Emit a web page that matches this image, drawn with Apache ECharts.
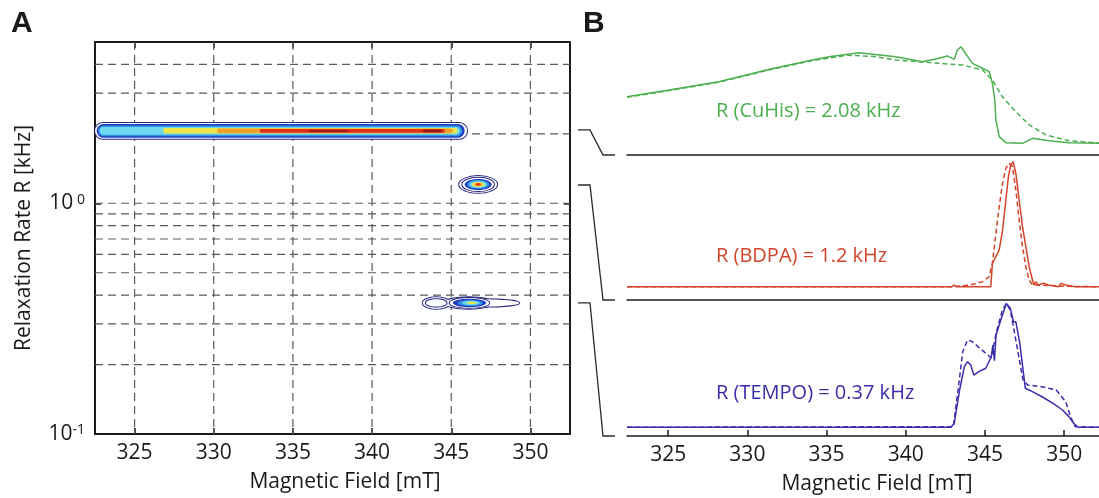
<!DOCTYPE html>
<html>
<head>
<meta charset="utf-8">
<script src="https://cdn.jsdelivr.net/npm/echarts@6.0.0/dist/echarts.min.js"></script>
<style>
  html, body { margin: 0; padding: 0; background: #fff; }
  #chart { width: 1099px; height: 498px; }
</style>
</head>
<body>
<div id="chart"></div>
<script>
const FONT = '"Open Sans", "Noto Sans", sans-serif'
const INK = '#1a1a1a'

// ---- panel A: relaxation map ----
const fieldMin = 322.5
const fieldMax = 352.5
const fieldTicks = [325, 330, 335, 340, 345, 350]
const rateMin = 0.1
const rateMax = 5
const rateDecades = [0.1, 1]
const rateGrid = [0.2, 0.3, 0.4, 0.5, 0.6, 0.7, 0.8, 0.9, 1, 2, 3, 4]

// contour pieces: [field from, field to, R kHz, half height (decades), level]
// level 0/1 = contour lines, 2..8 = filled levels (blue -> dark red)
const cuhisBand = [
  [322.5, 346.0, 2.06, 0.0345, 0],
  [322.6, 345.85, 2.06, 0.030, 2],
  [322.7, 345.7, 2.06, 0.023, 3],
  [322.8, 345.55, 2.06, 0.017, 4],
  [326.8, 345.4, 2.06, 0.012, 5],
  [330.2, 345.1, 2.06, 0.010, 6],
  [332.9, 344.6, 2.06, 0.008, 7],
  [336.0, 338.5, 2.06, 0.004, 8],
  [343.2, 344.4, 2.06, 0.006, 8]
]
const bdpaSpot = [
  [345.5, 347.9, 1.207, 0.036, 0],
  [345.7, 347.7, 1.207, 0.029, 1],
  [345.85, 347.55, 1.207, 0.024, 2],
  [346.0, 347.4, 1.207, 0.019, 3],
  [346.15, 347.25, 1.207, 0.015, 4],
  [346.3, 347.1, 1.207, 0.011, 5],
  [346.45, 346.95, 1.207, 0.008, 6],
  [346.55, 346.85, 1.207, 0.005, 7]
]
const tempoSpot = [
  [343.2, 344.9, 0.37, 0.025, 0],
  [344.4, 349.3, 0.37, 0.016, 0],
  [344.6, 347.6, 0.37, 0.025, 0],
  [343.4, 344.7, 0.37, 0.016, 1],
  [344.9, 347.4, 0.37, 0.021, 1],
  [345.1, 347.2, 0.37, 0.018, 2],
  [345.4, 347.0, 0.37, 0.013, 3],
  [345.7, 346.8, 0.37, 0.009, 4],
  [346.0, 346.6, 0.37, 0.005, 5]
]
const levelColors = ['#24237a', '#24237a', '#1f3cc4', '#3293df', '#6fd8ef', '#eee54a', '#f4a12c', '#df2f1d', '#9a1a15']

// ---- panel B: spectra ----
const samples = ['CuHis', 'BDPA', 'TEMPO']
const rates = [2.08, 1.2, 0.37]
const sampleColors = ['#4caf50', '#d2452b', '#3a2eaa']
const specFieldMin = 322.4
const specFieldMax = 352.2

const cuhisExp = [
  [322.4, 0.448], [325.06, 0.50], [328.2, 0.564], [331.4, 0.659], [334.1, 0.731],
  [335.16, 0.756], [337.06, 0.787], [339.37, 0.756], [341.05, 0.718], [342.1, 0.744],
  [342.63, 0.762], [343.06, 0.736], [343.26, 0.808], [343.48, 0.833], [344.21, 0.705],
  [344.84, 0.667], [345.27, 0.641], [345.47, 0.552], [345.62, 0.423], [345.69, 0.269],
  [345.9, 0.141], [346.32, 0.095], [347.37, 0.09], [348.0, 0.128], [349.05, 0.11],
  [350.3, 0.095], [352.2, 0.09]
]
const cuhisFit = [
  [322.4, 0.444], [325.06, 0.496], [328.2, 0.56], [331.4, 0.655], [334.1, 0.726],
  [336.3, 0.768], [338.0, 0.758], [339.37, 0.731], [342.1, 0.705], [343.6, 0.692],
  [344.84, 0.654], [345.47, 0.577], [346.1, 0.448], [346.95, 0.333], [347.8, 0.231],
  [348.85, 0.154], [350.3, 0.11], [352.2, 0.092]
]
const bdpaExp = [
  [322.4, 0.102], [342.9, 0.102], [343.06, 0.115], [343.2, 0.102], [345.37, 0.102],
  [345.47, 0.282], [345.69, 0.333], [345.9, 0.385], [346.11, 0.538], [346.32, 0.769],
  [346.48, 0.949], [346.63, 1.038], [346.78, 1.064], [346.95, 0.974], [347.16, 0.769],
  [347.37, 0.564], [347.58, 0.41], [347.79, 0.256], [348.0, 0.154], [348.1, 0.115],
  [348.2, 0.14], [348.4, 0.115], [348.7, 0.13], [349.0, 0.115], [349.65, 0.102],
  [349.8, 0.128], [350.1, 0.115], [350.7, 0.102], [352.2, 0.102]
]
const bdpaFit = [
  [322.4, 0.102], [343.0, 0.102], [344.05, 0.115], [344.84, 0.141], [345.26, 0.179],
  [345.47, 0.282], [345.69, 0.513], [345.9, 0.718], [346.11, 0.897], [346.32, 1.013],
  [346.53, 1.051], [346.74, 1.026], [346.95, 0.846], [347.16, 0.615], [347.37, 0.41],
  [347.58, 0.256], [347.79, 0.154], [348.0, 0.115], [349.0, 0.112], [350.3, 0.105],
  [352.2, 0.102]
]
const tempoExp = [
  [322.4, 0.067], [342.85, 0.067], [343.06, 0.097], [343.4, 0.354], [343.7, 0.533],
  [343.9, 0.572], [344.1, 0.546], [344.3, 0.469], [344.6, 0.495], [345.05, 0.521],
  [345.4, 0.61], [345.5, 0.70], [345.6, 0.579], [345.7, 0.777], [346.0, 0.892],
  [346.35, 1.02], [346.6, 0.982], [346.8, 0.879], [346.95, 0.879], [347.2, 0.713],
  [347.55, 0.367], [348.0, 0.341], [348.6, 0.302], [349.3, 0.251], [349.9, 0.2],
  [350.3, 0.149], [350.6, 0.097], [350.9, 0.067], [352.2, 0.067]
]
const tempoFit = [
  [322.4, 0.067], [343.0, 0.072], [343.3, 0.354], [343.6, 0.649], [343.9, 0.738],
  [344.2, 0.726], [344.8, 0.662], [345.4, 0.6], [345.7, 0.79], [346.1, 0.969],
  [346.35, 1.02], [346.6, 0.969], [346.95, 0.738], [347.4, 0.431], [347.7, 0.392],
  [348.6, 0.379], [349.5, 0.354], [350.1, 0.264], [350.4, 0.149], [350.7, 0.072],
  [352.2, 0.067]
]
const spectra = [[cuhisExp, cuhisFit], [bdpaExp, bdpaFit], [tempoExp, tempoFit]]

const chart = echarts.init(document.getElementById('chart'), null, { renderer: 'canvas' })

const renderContour = kind => (params, api) => {
  const r = api.value(2)
  const h = Math.pow(10, api.value(3))
  const lvl = api.value(4)
  const p0 = api.coord([api.value(0), r * h])
  const p1 = api.coord([api.value(1), r / h])
  const w = p1[0] - p0[0]
  const hh = p1[1] - p0[1]
  const geom = kind === 'band'
    ? { type: 'rect', shape: { x: p0[0], y: p0[1], width: w, height: hh, r: hh / 2 } }
    : { type: 'ellipse', shape: { cx: p0[0] + w / 2, cy: p0[1] + hh / 2, rx: w / 2, ry: hh / 2 } }
  if (lvl < 2) {
    return {
      type: 'group',
      children: [
        Object.assign({}, geom, { z2: lvl * 2, style: { fill: 'none', stroke: levelColors[lvl], lineWidth: 2 } }),
        Object.assign({}, geom, { z2: lvl * 2 + 1, style: { fill: '#fff' } })
      ]
    }
  }
  return Object.assign({}, geom, { z2: 10 + lvl, style: { fill: levelColors[lvl] } })
}

const gridLineStyle = { stroke: '#5a5a5a', lineWidth: 1.2, lineDash: [8, 5] }

const axisNameStyle = { fontSize: 21, color: INK, fontFamily: FONT }
const tickLabel = { fontSize: 21, color: INK, fontFamily: FONT }

const specGrids = [155, 300, 436].map(b => ({ left: 627, right: 0, top: b - 143, height: 143 }))

const option = {
  animation: false,
  backgroundColor: '#fff',
  grid: [{ left: 95, top: 42, width: 475, height: 394 }].concat(specGrids),
  xAxis: [
    {
      gridIndex: 0, type: 'value', min: fieldMin, max: fieldMax,
      name: 'Magnetic Field [mT]', nameLocation: 'middle', nameGap: 38,
      nameTextStyle: Object.assign({ padding: [0, 0, 0, 25] }, axisNameStyle),
      axisLine: { lineStyle: { color: INK, width: 2 } },
      axisTick: { inside: true, length: 6, lineStyle: { color: INK, width: 1.5 }, customValues: fieldTicks },
      axisLabel: Object.assign({ margin: 9, customValues: fieldTicks }, tickLabel),
      splitLine: { show: false }
    },
    {
      gridIndex: 0, type: 'value', position: 'top', min: fieldMin, max: fieldMax,
      axisLine: { lineStyle: { color: INK, width: 2 } },
      axisTick: { inside: true, length: 6, lineStyle: { color: INK, width: 1.5 }, customValues: fieldTicks },
      axisLabel: { show: false },
      splitLine: { show: false }
    }
  ].concat(samples.map((s, i) => ({
    gridIndex: i + 1, type: 'value', min: specFieldMin, max: specFieldMax,
    name: i === 2 ? 'Magnetic Field [mT]' : '', nameLocation: 'middle', nameGap: 38,
    nameTextStyle: Object.assign({ padding: [0, 0, 0, 28] }, axisNameStyle),
    axisLine: { onZero: false, lineStyle: { color: INK, width: 1.5 } },
    axisTick: { show: i === 2, inside: true, length: 6, lineStyle: { color: INK, width: 1.5 }, customValues: fieldTicks },
    axisLabel: Object.assign({ show: i === 2, margin: 9, customValues: fieldTicks }, tickLabel),
    splitLine: { show: false }
  }))),
  yAxis: [
    {
      gridIndex: 0, type: 'log', logBase: 10, min: rateMin, max: rateMax,
      name: 'Relaxation Rate R [kHz]', nameLocation: 'middle', nameGap: 60,
      nameTextStyle: axisNameStyle,
      axisLine: { lineStyle: { color: INK, width: 2 } },
      axisTick: { inside: true, length: 6, lineStyle: { color: INK, width: 1.5 }, customValues: rateDecades },
      axisLabel: {
        margin: 10, customValues: rateDecades,
        formatter: v => '{b|10}{s|' + (Math.round(Math.log10(v)) === 0 ? ' 0' : '-1') + '}',
        rich: {
          b: { fontSize: 21, color: INK, fontFamily: FONT, verticalAlign: 'bottom' },
          s: { fontSize: 14, color: INK, fontFamily: FONT, verticalAlign: 'top' }
        }
      },
      splitLine: { show: false }
    },
    {
      gridIndex: 0, type: 'log', logBase: 10, min: rateMin, max: rateMax, position: 'right',
      axisLine: { lineStyle: { color: INK, width: 2 } },
      axisTick: { inside: true, length: 6, lineStyle: { color: INK, width: 1.5 }, customValues: rateDecades },
      axisLabel: { show: false },
      splitLine: { show: false }
    }
  ].concat(samples.map((s, i) => ({
    gridIndex: i + 1, type: 'value', min: 0, max: 1.1, show: false
  }))),
  series: [
    {
      type: 'custom', xAxisIndex: 0, yAxisIndex: 0, z: 1, silent: true,
      data: fieldTicks.map(f => [f, 1]),
      renderItem: (params, api) => {
        const x = api.coord([api.value(0), 1])[0]
        const cs = params.coordSys
        return { type: 'line', shape: { x1: x, y1: cs.y, x2: x, y2: cs.y + cs.height }, style: gridLineStyle }
      }
    },
    {
      type: 'custom', xAxisIndex: 0, yAxisIndex: 0, z: 1, silent: true,
      data: rateGrid.map(r => [fieldMin, r]),
      renderItem: (params, api) => {
        const y = api.coord([fieldMin, api.value(1)])[1]
        const cs = params.coordSys
        return { type: 'line', shape: { x1: cs.x, y1: y, x2: cs.x + cs.width, y2: y }, style: gridLineStyle }
      }
    },
    { type: 'custom', xAxisIndex: 0, yAxisIndex: 0, z: 3, silent: true, clip: true, data: cuhisBand, renderItem: renderContour('band') },
    { type: 'custom', xAxisIndex: 0, yAxisIndex: 0, z: 3, silent: true, clip: true, data: bdpaSpot, renderItem: renderContour('spot') },
    { type: 'custom', xAxisIndex: 0, yAxisIndex: 0, z: 3, silent: true, clip: true, data: tempoSpot, renderItem: renderContour('spot') }
  ].concat(...spectra.map((pair, i) => pair.map((d, k) => ({
    type: 'line', name: samples[i] + (k ? ' fit' : ''),
    xAxisIndex: i + 2, yAxisIndex: i + 2,
    data: d, showSymbol: false, symbol: 'none', silent: true,
    lineStyle: { color: sampleColors[i], width: 1.5, type: k ? [5, 3] : 'solid' }
  }))))
}

chart.setOption(option)

// connectors from each R in panel A to the matching spectrum in panel B,
// labels and panel letters
const aRight = chart.convertToPixel({ xAxisIndex: 0 }, fieldMax)
const labelY = [111, 256, 393]
const graphics = []
rates.forEach((r, i) => {
  const y1 = chart.convertToPixel({ yAxisIndex: 0 }, r)
  const y2 = chart.convertToPixel({ yAxisIndex: i + 2 }, 0)
  graphics.push({
    type: 'polyline', silent: true,
    shape: { points: [[aRight + 8, y1], [aRight + 20, y1], [aRight + 33, y2], [aRight + 45, y2]] },
    style: { stroke: '#2a2a2a', lineWidth: 1.3, fill: 'none' }
  })
  graphics.push({
    type: 'text', x: 716, y: labelY[i], silent: true,
    style: {
      text: 'R (' + samples[i] + ') = ' + rates[i] + ' kHz',
      fill: sampleColors[i], font: '20px ' + FONT, textVerticalAlign: 'middle'
    }
  })
})
graphics.push({ type: 'text', x: 11, y: 24, style: { text: 'A', fill: INK, font: 'bold 30px "Liberation Sans", Arial, sans-serif', textVerticalAlign: 'middle' } })
graphics.push({ type: 'text', x: 583, y: 24, style: { text: 'B', fill: INK, font: 'bold 30px "Liberation Sans", Arial, sans-serif', textVerticalAlign: 'middle' } })
chart.setOption({ graphic: graphics })
</script>
</body>
</html>
